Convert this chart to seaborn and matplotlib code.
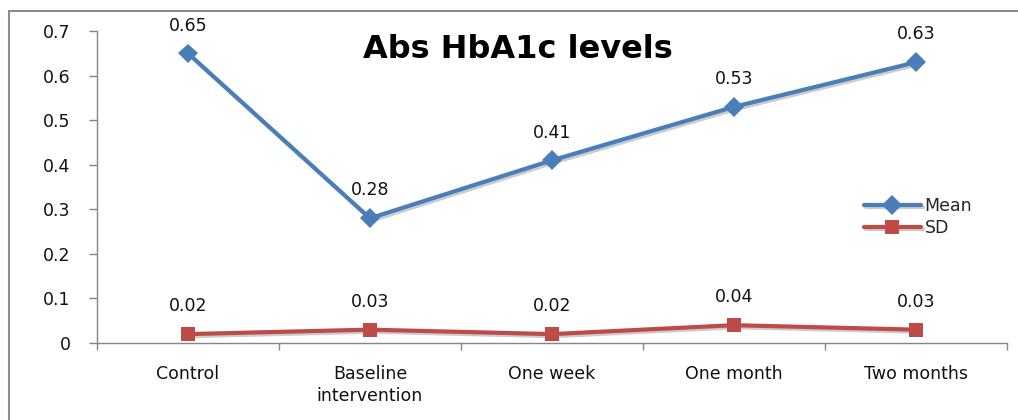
import matplotlib
matplotlib.use("Agg")
import matplotlib.pyplot as plt
import matplotlib.patheffects as pe
from matplotlib.patches import Rectangle
from matplotlib.ticker import MultipleLocator, FixedLocator
import seaborn as sns
import pandas as pd

# Data
categories = ["Control", "Baseline\nintervention", "One week", "One month", "Two months"]
mean_values = [0.65, 0.28, 0.41, 0.53, 0.63]
sd_values = [0.02, 0.03, 0.02, 0.04, 0.03]
series_names = ["Mean", "SD"]

df = pd.DataFrame({
    "pos": list(range(len(categories))) * 2,
    "value": mean_values + sd_values,
    "series": [series_names[0]] * len(categories) + [series_names[1]] * len(categories),
})

sns.set_theme(style="white")
plt.rcParams["font.family"] = ["DejaVu Sans"]

fig = plt.figure(figsize=(10.18, 4.2), dpi=100)
ax = fig.add_axes([0.0953, 0.1833, 0.8937, 0.7427])

palette = {"Mean": "#4A7EBB", "SD": "#BE4B48"}
shadow = [pe.SimpleLineShadow(offset=(1.5, -1.5), shadow_color="black", alpha=0.2), pe.Normal()]

sns.lineplot(data=df, x="pos", y="value", hue="series", style="series",
             markers={"Mean": "D", "SD": "s"}, dashes=False, palette=palette,
             linewidth=3, markersize=10, markeredgewidth=0, ax=ax, legend=True)
for line in ax.get_lines():
    line.set_path_effects(shadow)

label_size = 12.5

# value labels
for vals in (mean_values, sd_values):
    for i, v in enumerate(vals):
        ax.annotate(f"{v:.2f}", (i, v), xytext=(0, 20), textcoords="offset points",
                    ha="center", va="center", fontsize=label_size, color="#111111")

ax.set_xlim(-0.5, len(categories) - 0.5)
ax.set_ylim(0, 0.7)
ax.yaxis.set_major_locator(MultipleLocator(0.1))
ax.yaxis.set_major_formatter(plt.FuncFormatter(lambda v, _: "0" if abs(v) < 1e-9 else f"{v:.1f}"))
ax.set_xticks(range(len(categories)))
ax.set_xticklabels(categories, fontsize=label_size, color="#111111", linespacing=1.3)
ax.xaxis.set_minor_locator(FixedLocator([i - 0.5 for i in range(len(categories) + 1)]))
ax.tick_params(axis="x", which="major", length=0, pad=16)
ax.tick_params(axis="x", which="minor", length=5, width=1, color="#868686", bottom=True)
ax.tick_params(axis="y", length=6, width=1, color="#868686", left=True, labelsize=label_size,
               labelcolor="#111111", pad=13)
ax.set_xlabel("")
ax.set_ylabel("")

for side in ("top", "right"):
    ax.spines[side].set_visible(False)
for side in ("left", "bottom"):
    ax.spines[side].set_color("#868686")
    ax.spines[side].set_linewidth(1)

leg = ax.legend(loc="upper left", bbox_to_anchor=(0.835, 0.49), frameon=False,
                fontsize=label_size, handlelength=3.3, handletextpad=0.2, labelspacing=0.25,
                borderaxespad=0)
for h in leg.legend_handles:
    h.set_linewidth(3)

fig.text(0.509, 0.881, "Abs HbA1c levels", ha="center", va="center",
         fontsize=23, fontweight="bold", family=["DejaVu Sans"], color="#000000")

# outer chart frame
fig.patches.append(Rectangle((9 / 1018, -0.05), 1.1, 1 - 11 / 420 + 0.05,
                             transform=fig.transFigure, fill=False,
                             edgecolor="#8C8C8C", linewidth=1.5))

fig.savefig("out.png", dpi=100)
